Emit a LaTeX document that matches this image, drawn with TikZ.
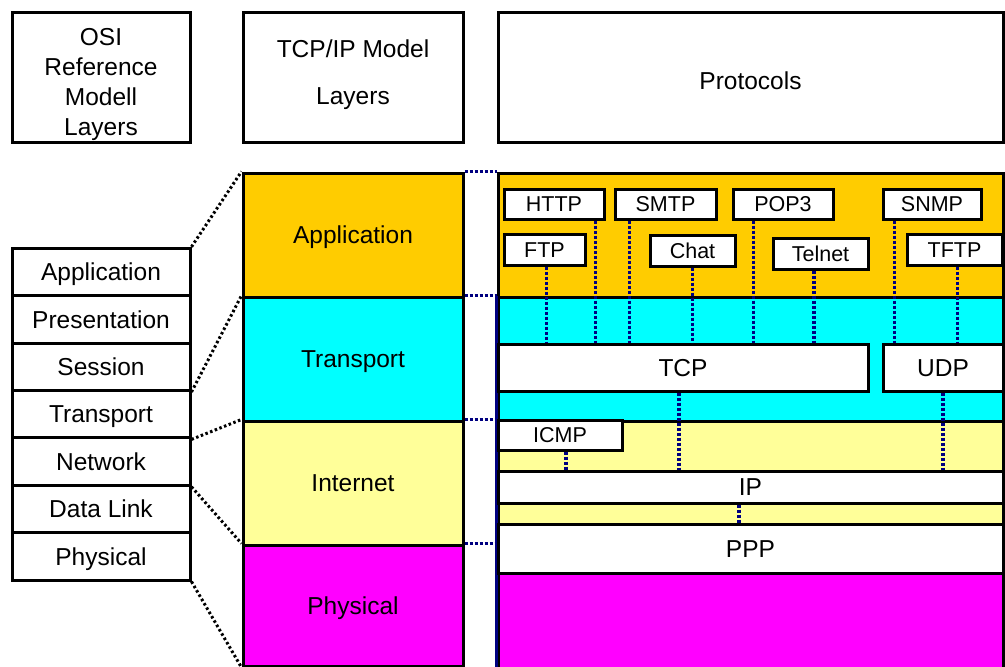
\documentclass[tikz,border=0pt]{standalone}
\usepackage{fontspec}
\setmainfont{Liberation Sans}
\definecolor{appcol}{HTML}{FFCC00}
\definecolor{trncol}{HTML}{00FFFF}
\definecolor{netcol}{HTML}{FFFF99}
\definecolor{phycol}{HTML}{FF00FF}
\definecolor{linkcol}{HTML}{000080}
\newcommand{\layerfont}{\fontsize{24.5}{30}\selectfont}
\newcommand{\protofont}{\fontsize{21.5}{26}\selectfont}
\begin{document}
\begin{tikzpicture}[
        x=1pt, y=-1pt,
        box/.style={draw, line width=3pt, inner sep=0pt},
        layer/.style={box, font=\layerfont, text height=17.5pt, text depth=0pt},
        proto/.style={box, fill=white, font=\protofont, text height=15.4pt, text depth=0pt},
        headtext/.style={inner sep=0pt, align=center},
        vlink/.style={draw=linkcol, line width=3.5pt, dash pattern=on 3pt off 2pt},
        map/.style={draw, line width=3pt, dash pattern=on 2.5pt off 2.5pt},
    ]
    \useasboundingbox (0,0) rectangle (1005,667);
    % headers
    \node[box, minimum width=178pt, minimum height=130pt] (osihead) at (101,77) {};
    \node[headtext, font=\fontsize{24.5}{30}\selectfont] (ositext) at ([yshift=-7pt]osihead.center) {OSI\\Reference\\Modell\\Layers};
    \node[box, minimum width=220pt, minimum height=130pt] (tcphead) at (353,77) {};
    \node[headtext, font=\fontsize{24.5}{47}\selectfont] (tcptext) at ([yshift=2pt]tcphead.center) {TCP/IP Model\\Layers};
    \node[box, minimum width=505pt, minimum height=130pt] (protohead) at (750.5,77) {};
    \node[headtext, font=\layerfont] (prototext) at ([yshift=-4pt]protohead.center) {Protocols};
    % OSI layers
    \foreach \name [count=\i] in {Application,Presentation,Session,Transport,Network,Data Link,Physical}
        \node[layer, minimum width=178pt, minimum height=47.4pt] (osi\i) at (101,{248.3+47.4*(\i-0.5)}) {\name};
    % TCP/IP layers
    \node[layer, fill=appcol, minimum width=220pt, minimum height=124pt] (tapp) at (353,235) {Application};
    \node[layer, fill=trncol, minimum width=220pt, minimum height=124pt] (ttrn) at (353,359) {Transport};
    \node[layer, fill=netcol, minimum width=220pt, minimum height=124pt] (tnet) at (353,483) {Internet};
    \node[layer, fill=phycol, minimum width=220pt, minimum height=121pt] (tphy) at (353,605.5) {Physical};
    \draw[map] (osi1.north east) -- (tapp.north west);
    \draw[map] (osi3.south east) -- (ttrn.north west);
    \draw[map] (osi4.south east) -- (tnet.north west);
    \draw[map] (osi5.south east) -- (tphy.north west);
    \draw[map] (osi7.south east) -- (tphy.south west);
    % protocol column
    \node[box, fill=appcol, minimum width=505pt, minimum height=124pt] (rapp) at (750.5,235) {};
    \node[box, fill=trncol, minimum width=505pt, minimum height=124pt] (rtrn) at (750.5,359) {};
    \node[box, fill=netcol, minimum width=505pt, minimum height=103pt] (rnet) at (750.5,472.5) {};
    \node[box, fill=phycol, minimum width=505pt, minimum height=99pt] (rphy) at (750.5,622.5) {};
    \draw[linkcol, line width=3pt] (rtrn.north west) -- (rphy.south west);
    \node[layer, fill=white, minimum width=505pt, minimum height=49pt] (ppp) at (750.5,548.5) {PPP};
    \node[layer, fill=white, minimum width=505pt, minimum height=32pt] (ip) at (750.5,487) {IP};
    \node[layer, fill=white, minimum width=370pt, minimum height=47pt] (tcp) at (683,367.5) {TCP};
    \node[layer, fill=white, minimum width=120pt, minimum height=47pt] (udp) at (943,367.5) {UDP};
    \node[proto, minimum width=124pt, minimum height=30pt] (icmp) at (560,435) {ICMP};
    \node[proto, minimum width=100pt, minimum height=30pt] (http) at (554,204) {HTTP};
    \node[proto, minimum width=101pt, minimum height=30pt] (smtp) at (665.5,204) {SMTP};
    \node[proto, minimum width=100pt, minimum height=30pt] (pop) at (783,204) {POP3};
    \node[proto, minimum width=98pt, minimum height=30pt] (snmp) at (932,204) {SNMP};
    \node[proto, minimum width=81pt, minimum height=31pt] (ftp) at (544.5,249.5) {FTP};
    \node[proto, minimum width=85pt, minimum height=31pt] (chat) at (692.5,250.5) {Chat};
    \node[proto, minimum width=95pt, minimum height=31pt] (telnet) at (820.5,253.5) {Telnet};
    \node[proto, minimum width=95pt, minimum height=31pt] (tftp) at (954.5,249.5) {TFTP};
    % links to transport
    \draw[vlink] ([xshift=2pt]ftp.south) -- ([xshift=2pt]ftp.south |- tcp.north);
    \draw[vlink] ([xshift=-10pt]http.south east) -- ([xshift=-10pt]http.south east |- tcp.north);
    \draw[vlink] ([xshift=16pt]smtp.south west) -- ([xshift=16pt]smtp.south west |- tcp.north);
    \draw[vlink] (chat.south) -- (chat.south |- tcp.north);
    \draw[vlink] ([xshift=22pt]pop.south west) -- ([xshift=22pt]pop.south west |- tcp.north);
    \draw[vlink] ([xshift=-6.5pt]telnet.south) -- ([xshift=-6.5pt]telnet.south |- tcp.north);
    \draw[vlink] ([xshift=13pt]snmp.south west) -- ([xshift=13pt]snmp.south west |- udp.north);
    \draw[vlink] ([xshift=3pt]tftp.south) -- ([xshift=3pt]tftp.south |- udp.north);
    % links to internet
    \draw[vlink] ([xshift=-4pt]tcp.south) -- ([xshift=-4pt]tcp.south |- ip.north);
    \draw[vlink] (udp.south) -- (udp.south |- ip.north);
    \draw[vlink] ([xshift=6pt]icmp.south) -- ([xshift=6pt]icmp.south |- ip.north);
    \draw[vlink] ([xshift=-11.5pt]ip.south) -- ([xshift=-11.5pt]ip.south |- ppp.north);
    % layer borders
    \draw[vlink] (tapp.north east) -- (tapp.north east -| rapp.west);
    \draw[vlink] (ttrn.north east) -- (ttrn.north east -| rtrn.west);
    \draw[vlink] (tnet.north east) -- (tnet.north east -| rnet.west);
    \draw[vlink] (tphy.north east) -- (tphy.north east -| ppp.west);
\end{tikzpicture}
\end{document}
